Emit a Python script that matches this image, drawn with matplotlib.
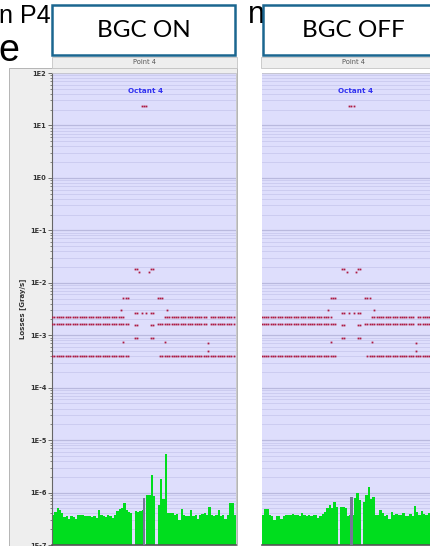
import numpy as np
import matplotlib.pyplot as plt
from matplotlib.patches import Rectangle
from matplotlib.ticker import FixedLocator, FuncFormatter, NullFormatter

W, H = 431, 546

# ---- data: sample index along the time window, losses in Gy/s ----
n_samples = 80

# flat readings of the three monitors (first sample, last sample, value)
run_first = [0, 49, 69, 0, 46, 69, 0, 47]
run_last = [31, 67, 79, 33, 67, 79, 33, 79]
run_value = [2.27e-3, 2.27e-3, 2.27e-3, 1.62e-3, 1.62e-3, 1.62e-3, 3.93e-4, 3.93e-4]

# single readings during the event
event_t = [39, 40, 41,
           36, 37, 43, 44,
           38, 42,
           31, 32, 33, 46, 47, 48,
           30, 50,
           36, 37, 39, 41, 43, 44,
           36, 37, 43, 44,
           36, 37, 43, 44,
           31, 49,
           68, 68]
event_v = [23.3, 23.3, 23.3,
           1.8e-2, 1.8e-2, 1.8e-2, 1.8e-2,
           1.6e-2, 1.6e-2,
           5.2e-3, 5.2e-3, 5.2e-3, 5.2e-3, 5.2e-3, 5.2e-3,
           3.0e-3, 3.0e-3,
           2.7e-3, 2.7e-3, 2.7e-3, 2.7e-3, 2.7e-3, 2.7e-3,
           1.55e-3, 1.55e-3, 1.55e-3, 1.55e-3,
           9.0e-4, 9.0e-4, 9.0e-4, 9.0e-4,
           7.3e-4, 7.3e-4,
           7.0e-4, 5.0e-4]

# the BGC OFF window starts a little earlier
off_shift = 1.2

# background monitor (units of 1e-7 Gy/s, 0 = no reading)
green_on = [3.7, 4.2, 5.0, 4.6, 4.0, 3.4, 3.6, 3.1, 3.5, 3.4,
            3.1, 3.7, 3.7, 3.8, 3.6, 3.6, 3.5, 3.4, 3.6, 3.3,
            4.6, 3.8, 3.5, 3.4, 3.8, 3.6, 3.3, 3.8, 4.4, 4.8,
            5.0, 6.4, 4.6, 4.2, 4.0, 0, 4.4, 4.3, 4.4, 4.6,
            0, 8.8, 8.8, 22, 8.5, 0, 5.9, 18.5, 7.5, 55,
            4.0, 4.1, 4.0, 3.8, 3.9, 3.0, 4.8, 3.7, 3.6, 3.5,
            4.6, 3.6, 3.7, 3.1, 3.7, 3.9, 4.0, 3.8, 5.3, 3.7,
            3.6, 3.8, 4.7, 3.6, 3.7, 3.2, 3.8, 6.3, 6.3, 3.7]
green_off = [3.8, 4.9, 4.9, 3.7, 3.6, 3.0, 3.6, 3.5, 3.1, 3.6,
             3.7, 3.8, 3.7, 3.9, 3.7, 3.8, 3.6, 4.1, 3.7, 3.6,
             3.8, 3.5, 3.7, 3.8, 3.3, 3.6, 3.9, 4.3, 5.0, 5.9,
             5.0, 6.6, 5.2, 0, 5.3, 5.2, 5.0, 3.6, 3.7, 3.8,
             8.0, 10, 7.3, 0, 6.6, 9.0, 12.8, 7.6, 8.3, 3.7,
             3.8, 4.6, 4.0, 3.6, 3.8, 3.2, 4.3, 3.8, 3.9, 3.7,
             3.8, 4.0, 3.6, 3.6, 3.9, 3.5, 5.5, 4.2, 3.7, 4.4,
             3.9, 3.8, 4.0]

# grey reading (Gy/s) and its sample
gray_on_t, gray_on_v = 39.6, 8.0e-7
gray_off_t, gray_off_v = 38.4, 8.4e-7

ymin, ymax = 1e-7, 1e2

RED = "#AD1A42"
GREEN = "#00DD1E"
GREY = "#767696"
BG = "#DEDEFC"
BOX = "#1B6690"


def fx(x):
    return x / W


def fy(y):
    return 1 - y / H


def draw_panel(ax, shift, green, gray_t, gray_v, show_y):
    ax.set_zorder(2)
    ax.set_facecolor(BG)
    ax.set_yscale("log")
    ax.set_ylim(ymin, ymax)
    ax.set_xlim(0, n_samples)

    major = [10.0 ** k for k in range(-7, 3)]
    minor = [m * 10.0 ** k for k in range(-7, 2) for m in range(2, 10)]
    for v in minor:
        ax.axhline(v, color="#C9C9EE", lw=0.6, zorder=0)
    for v in major:
        ax.axhline(v, color="#B9B9DE", lw=0.9, zorder=0)

    # background monitor bars
    g = np.array(green) * 1e-7
    idx = np.arange(len(g))
    ok = g > 0
    ax.bar(idx[ok], g[ok] - ymin, bottom=ymin, width=1.0, align="edge",
           color=GREEN, edgecolor="none", zorder=2)
    ax.bar([gray_t], [gray_v - ymin], bottom=ymin, width=1.0, align="edge",
           color=GREY, edgecolor="none", zorder=3)

    # monitor readings
    for a, b, v in zip(run_first, run_last, run_value):
        t = np.arange(a, b + 1) - shift
        ax.plot(t, np.full(len(t), v), "s", ms=1.3, mew=0, color=RED, zorder=4)
    ax.plot(np.array(event_t) - shift, event_v, "s", ms=1.3, mew=0,
            color=RED, zorder=4)

    ax.text(0.51, 0.962, "Octant 4", transform=ax.transAxes, ha="center",
            va="center", color="#3030F0", fontsize=5.2, fontweight="bold")

    ax.set_xticks([])
    ax.yaxis.set_major_locator(FixedLocator(major))
    ax.yaxis.set_minor_locator(FixedLocator(minor))
    ax.yaxis.set_minor_formatter(NullFormatter())
    if show_y:
        ax.yaxis.set_major_formatter(
            FuncFormatter(lambda v, p: "1E%d" % round(np.log10(v))))
        ax.tick_params(axis="y", which="major", length=3, width=0.6,
                       color="#555555", labelsize=4.8, pad=1,
                       labelcolor="#333333")
        ax.tick_params(axis="y", which="minor", length=1.5, width=0.5,
                       color="#555555")
        for lab in ax.get_yticklabels():
            lab.set_fontweight("bold")
        ax.set_ylabel("Losses [Gray/s]", fontsize=5, fontweight="bold",
                      color="#333333", labelpad=3)
        ax.spines["left"].set_color("#666666")
        ax.spines["left"].set_linewidth(0.8)
    else:
        ax.tick_params(axis="y", which="both", length=0, labelleft=False)
        ax.spines["left"].set_visible(False)
    ax.spines["bottom"].set_color("#555555")
    ax.spines["bottom"].set_linewidth(1.2)
    ax.spines["top"].set_color("#CCCCCC")
    ax.spines["top"].set_linewidth(0.5)
    ax.spines["right"].set_color("#BBBBBB")
    ax.spines["right"].set_linewidth(0.5)


fig = plt.figure(figsize=(W / 100, H / 100), dpi=100)

# grey frame of the left chart and the two "Point 4" headers
fig.patches.append(Rectangle((fx(9), fy(548)), fx(237 - 9), (548 - 68) / H,
                             transform=fig.transFigure, facecolor="#EEEEEE",
                             edgecolor="#AAAAAA", lw=0.6, zorder=0))
for x0, x1 in [(52, 237), (261, 445)]:
    fig.patches.append(Rectangle((fx(x0), fy(68)), fx(x1 - x0), 11 / H,
                                 transform=fig.transFigure,
                                 facecolor="#EEEEEE", edgecolor="#C4C4C4",
                                 lw=0.6, zorder=0))
    fig.text(fx((x0 + x1) / 2 + 0.5), fy(62.5), "Point 4", ha="center",
             va="center", fontsize=4.8, color="#555555")

ax_on = fig.add_axes([fx(52), fy(545), fx(184), 472 / H])
ax_off = fig.add_axes([fx(262), fy(545), fx(184), 472 / H])
draw_panel(ax_on, 0.0, green_on, gray_on_t, gray_on_v, True)
draw_panel(ax_off, off_shift, green_off, gray_off_t, gray_off_v, False)

# slide title behind the labels
fig.text(fx(-1), fy(23), "n P4", fontsize=18, family="Liberation Sans",
         va="baseline", ha="left", zorder=1)
fig.text(fx(248), fy(23), "n", fontsize=22, family="Liberation Sans",
         va="baseline", ha="left", zorder=1)
fig.text(fx(-2), fy(61), "e", fontsize=27, family="Liberation Sans",
         va="baseline", ha="left", zorder=1)

# white labels on top
for x0, x1, label in [(52.5, 235, "BGC ON"), (262.5, 445, "BGC OFF")]:
    fig.patches.append(Rectangle((fx(x0), fy(54.5)), fx(x1 - x0), 49.5 / H,
                                 transform=fig.transFigure, facecolor="white",
                                 edgecolor=BOX, lw=1.8, zorder=5))
    fig.text(fx((x0 + x1) / 2), fy(30.5), label, ha="center", va="center",
             fontsize=17.5, family="Lato", color="black", zorder=6)

fig.savefig("out.png", dpi=100)
